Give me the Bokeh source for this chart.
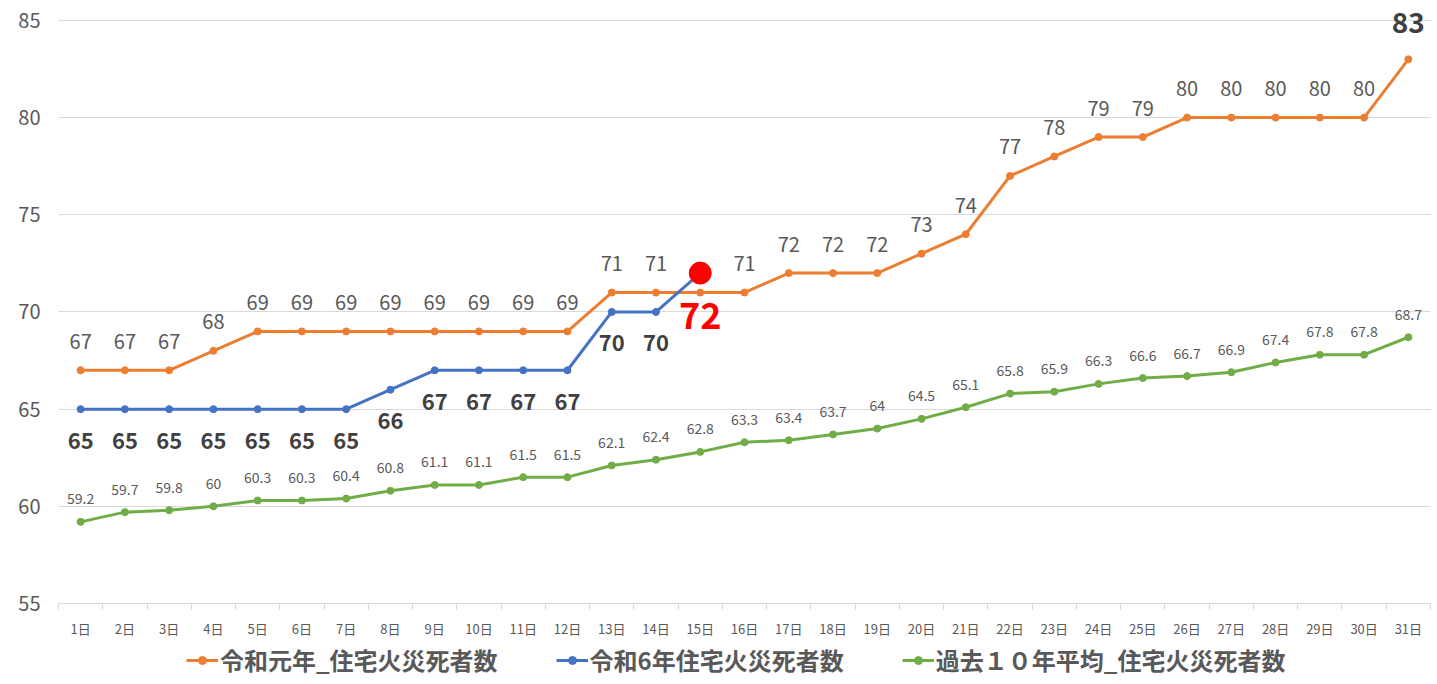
from bokeh.plotting import figure
from bokeh.layouts import column
from bokeh.models import ColumnDataSource, FixedTicker, Legend, LegendItem, Range1d
from bokeh.core.properties import value
from bokeh.embed import file_html
from bokeh.resources import INLINE

days = [f"{i}日" for i in range(1, 32)]
r1 = [67, 67, 67, 68, 69, 69, 69, 69, 69, 69, 69, 69, 71, 71, 71, 71, 72, 72, 72, 73, 74, 77, 78, 79, 79, 80, 80, 80, 80, 80, 83]
r6 = [65, 65, 65, 65, 65, 65, 65, 66, 67, 67, 67, 67, 70, 70, 72]
avg10 = [59.2, 59.7, 59.8, 60, 60.3, 60.3, 60.4, 60.8, 61.1, 61.1, 61.5, 61.5, 62.1, 62.4, 62.8, 63.3, 63.4, 63.7, 64, 64.5, 65.1, 65.8, 65.9, 66.3, 66.6, 66.7, 66.9, 67.4, 67.8, 67.8, 68.7]
y_ticks = [55, 60, 65, 70, 75, 80, 85]
legend_names = ["令和元年_住宅火災死者数", "令和6年住宅火災死者数", "過去１０年平均_住宅火災死者数"]

FONT = "Noto Sans CJK JP"
C_OR = "#ED7D31"
C_BL = "#4472C4"
C_GR = "#70AD47"
GRAY = "#595959"

xs = list(range(1, 32))
# frame: 605 px tall, 19.5 px per unit; 20 px headroom above 85 for labels
p = figure(width=1437, height=640, output_backend="svg", toolbar_location=None,
           x_range=Range1d(0.5, 31.5), y_range=Range1d(55, 85 + 20 / 19.5),
           min_border_left=58, min_border_right=7, min_border_top=0, min_border_bottom=35)
p.outline_line_color = None
p.xgrid.grid_line_color = None
p.ygrid.grid_line_color = "#d9d9d9"
p.ygrid.grid_line_width = 1

# y axis
p.yaxis.ticker = FixedTicker(ticks=y_ticks)
p.yaxis.axis_line_color = None
p.yaxis.major_tick_line_color = None
p.yaxis.minor_tick_line_color = None
p.yaxis.major_label_text_font = FONT
p.yaxis.major_label_text_font_size = "20px"
p.yaxis.major_label_text_color = GRAY
p.yaxis.major_label_standoff = 12

# x axis
p.xaxis.ticker = FixedTicker(ticks=xs, minor_ticks=[x + 0.5 for x in range(0, 32)])
p.xaxis.major_label_overrides = {x: d for x, d in zip(xs, days)}
p.xaxis.axis_line_color = "#d9d9d9"
p.xaxis.major_tick_line_color = None
p.xaxis.minor_tick_line_color = "#d9d9d9"
p.xaxis.minor_tick_out = 6
p.xaxis.minor_tick_in = 0
p.xaxis.major_label_text_font = FONT
p.xaxis.major_label_text_font_size = "13px"
p.xaxis.major_label_text_color = GRAY
p.xaxis.major_label_standoff = 9

# series
src_or = ColumnDataSource(dict(x=xs, y=r1))
src_bl = ColumnDataSource(dict(x=xs[:len(r6)], y=r6))
src_gr = ColumnDataSource(dict(x=xs, y=avg10))

p.line("x", "y", source=src_or, line_color=C_OR, line_width=3)
p.scatter("x", "y", source=src_or, size=7, color=C_OR)
p.line("x", "y", source=src_gr, line_color=C_GR, line_width=3)
p.scatter("x", "y", source=src_gr, size=7, color=C_GR)
p.line("x", "y", source=src_bl, line_color=C_BL, line_width=3)
p.scatter("x", "y", source=src_bl, size=7, color=C_BL)

# highlight latest point
last = len(r6) - 1
p.scatter(x=[xs[last]], y=[r6[last]], size=22, color="#FF0000")

# orange labels
or_idx = [i for i in range(31) if i != 14 and i != 30]
p.text(x=[xs[i] for i in or_idx], y=[r1[i] for i in or_idx], text=[str(r1[i]) for i in or_idx],
       y_offset=-29, text_align="center", text_baseline="middle",
       text_font=value(FONT), text_font_size="20px", text_color=GRAY)
p.text(x=[xs[30]], y=[r1[30]], text=[str(r1[30])], y_offset=-37,
       text_align="center", text_baseline="middle",
       text_font=value(FONT), text_font_size="28px", text_font_style="bold", text_color="#404040")

# blue labels
p.text(x=xs[:last], y=r6[:last], text=[str(v) for v in r6[:last]], y_offset=31,
       text_align="center", text_baseline="middle",
       text_font=value(FONT), text_font_size="22px", text_font_style="bold", text_color="#404040")
p.text(x=[xs[last]], y=[r6[last]], text=[str(r6[last])], y_offset=42,
       text_align="center", text_baseline="middle",
       text_font=value(FONT), text_font_size="36px", text_font_style="bold", text_color="#FF0000")

# green labels
p.text(x=xs, y=avg10, text=[f"{v:g}" for v in avg10], y_offset=-23,
       text_align="center", text_baseline="middle",
       text_font=value(FONT), text_font_size="14px", text_color=GRAY)

# legend in its own strip below the chart (series redrawn out of view as legend sources)
lg = figure(width=1437, height=44, output_backend="svg", toolbar_location=None,
            x_range=Range1d(0, 1), y_range=Range1d(0, 1),
            min_border_left=0, min_border_right=0, min_border_top=0, min_border_bottom=0)
lg.axis.visible = False
lg.grid.visible = False
lg.outline_line_color = None
items = []
for name, col, src in zip(legend_names, [C_OR, C_BL, C_GR], [src_or, src_bl, src_gr]):
    rl = lg.line("x", "y", source=src, line_color=col, line_width=3)
    rm = lg.scatter("x", "y", source=src, size=7, color=col)
    items.append(LegendItem(label=name, renderers=[rl, rm]))
legend = Legend(items=items, orientation="horizontal", location=(128, 7))
legend.label_text_font = FONT
legend.label_text_font_size = "24px"
legend.label_text_font_style = "bold"
legend.label_text_color = GRAY
legend.glyph_width = 32
legend.spacing = 58
legend.border_line_color = None
legend.background_fill_alpha = 0
legend.padding = 2
legend.margin = 0
legend.label_standoff = 2
lg.add_layout(legend, "center")

open("out.html", "w").write(file_html(column(p, lg, spacing=0), INLINE))
